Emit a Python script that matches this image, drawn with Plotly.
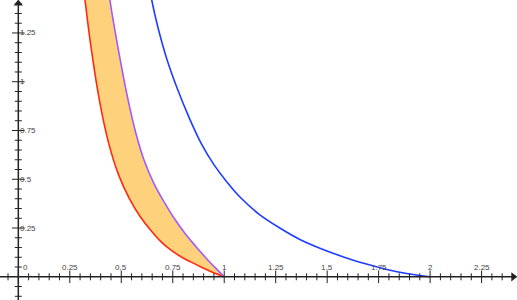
import plotly.graph_objects as go

# ---- data ----
red_x = [0.318, 0.324, 0.350, 0.393, 0.440, 0.488, 0.540, 0.590, 0.640, 0.690, 0.740, 0.790, 0.840, 0.890, 0.940, 1.0]
red_y = [1.470, 1.419, 1.200, 0.910, 0.680, 0.520, 0.400, 0.312, 0.242, 0.183, 0.138, 0.103, 0.075, 0.049, 0.025, 0.0]

purple_x = [0.440, 0.445, 0.490, 0.533, 0.570, 0.610, 0.660, 0.710, 0.760, 0.810, 0.860, 0.910, 0.955, 1.0]
purple_y = [1.470, 1.419, 1.140, 0.907, 0.740, 0.600, 0.475, 0.380, 0.295, 0.222, 0.158, 0.098, 0.048, 0.0]

blue_x = [0.640, 0.648, 0.680, 0.720, 0.770, 0.830, 0.890, 0.950, 1.010, 1.080, 1.170, 1.270, 1.370, 1.480, 1.590, 1.700, 1.800, 1.900, 2.0]
blue_y = [1.470, 1.419, 1.270, 1.120, 0.970, 0.815, 0.680, 0.575, 0.490, 0.405, 0.320, 0.250, 0.190, 0.140, 0.098, 0.063, 0.035, 0.014, 0.0]

x_tick_labels = ["0", "0.25", "0.5", "0.75", "1", "1.25", "1.5", "1.75", "2", "2.25"]
x_tick_vals = [0, 0.25, 0.5, 0.75, 1, 1.25, 1.5, 1.75, 2, 2.25]
y_tick_labels = ["0.25", "0.5", "0.75", "1", "1.25"]
y_tick_vals = [0.25, 0.5, 0.75, 1, 1.25]
x_minor = [round(-0.05 + 0.05 * i, 2) for i in range(49)]
y_minor = [round(-0.10 + 0.05 * i, 2) for i in range(31)]

X_RANGE = [-0.089, 2.422]
Y_RANGE = [-0.119, 1.419]

AXIS = "#222222"
LABEL = "#444444"
SPL = dict(shape="spline", smoothing=1.0)
fig = go.Figure()

# shaded band between red and purple curves
fig.add_trace(go.Scatter(
    x=red_x + purple_x[::-1], y=red_y + purple_y[::-1],
    fill="toself", fillcolor="#FED27C", mode="lines",
    line=dict(width=0, **SPL), hoverinfo="skip"))

fig.add_trace(go.Scatter(x=red_x, y=red_y, mode="lines",
                         line=dict(color="#FF2A10", width=1.6, **SPL)))
fig.add_trace(go.Scatter(x=purple_x, y=purple_y, mode="lines",
                         line=dict(color="#A259FF", width=1.6, **SPL)))
fig.add_trace(go.Scatter(x=blue_x, y=blue_y, mode="lines",
                         line=dict(color="#1F3DFF", width=1.6, **SPL)))

# axes lines
fig.add_shape(type="line", x0=X_RANGE[0], x1=X_RANGE[1] - 0.02, y0=0, y1=0,
              line=dict(color=AXIS, width=1.5))
fig.add_shape(type="line", x0=0, x1=0, y0=Y_RANGE[0], y1=Y_RANGE[1] - 0.02,
              line=dict(color=AXIS, width=1.5))

# arrow heads
fig.add_trace(go.Scatter(x=[X_RANGE[1] - 0.018], y=[0], mode="markers",
                         marker=dict(symbol="triangle-right", size=8, color=AXIS)))
fig.add_trace(go.Scatter(x=[0], y=[Y_RANGE[1] - 0.018], mode="markers",
                         marker=dict(symbol="triangle-up", size=8, color=AXIS)))

# ticks
x_minor_only = [v for v in x_minor if all(abs(v - m) > 1e-6 for m in x_tick_vals)]
y_minor_only = [v for v in y_minor if all(abs(v - m) > 1e-6 for m in y_tick_vals + [0])]
fig.add_trace(go.Scatter(x=x_minor_only, y=[0] * len(x_minor_only), mode="markers",
                         marker=dict(symbol="line-ns", size=5, line=dict(color=AXIS, width=1))))
fig.add_trace(go.Scatter(x=x_tick_vals, y=[0] * len(x_tick_vals), mode="markers",
                         marker=dict(symbol="line-ns", size=9, line=dict(color=AXIS, width=1))))
fig.add_trace(go.Scatter(x=[0] * len(y_minor_only), y=y_minor_only, mode="markers",
                         marker=dict(symbol="line-ew", size=5, line=dict(color=AXIS, width=1))))
fig.add_trace(go.Scatter(x=[0] * len(y_tick_vals), y=y_tick_vals, mode="markers",
                         marker=dict(symbol="line-ew", size=9, line=dict(color=AXIS, width=1))))

# tick labels
for v, t in zip(x_tick_vals, x_tick_labels):
    fig.add_annotation(x=v, y=0, text=t, showarrow=False, xanchor="center", yanchor="bottom",
                       yshift=3, xshift=7 if v == 0 else 0,
                       font=dict(size=8, color=LABEL, family="Liberation Sans"))
for v, t in zip(y_tick_vals, y_tick_labels):
    fig.add_annotation(x=0, y=v, text=t, showarrow=False, xanchor="left", yanchor="middle",
                       xshift=0, font=dict(size=8, color=LABEL, family="Liberation Sans"))

fig.update_layout(
    width=517, height=300, margin=dict(l=0, r=0, t=0, b=0),
    paper_bgcolor="white", plot_bgcolor="white", showlegend=False,
    xaxis=dict(range=X_RANGE, visible=False, fixedrange=True),
    yaxis=dict(range=Y_RANGE, visible=False, fixedrange=True),
)
fig.write_html("out.html", config={"displayModeBar": False},
               post_script="document.body.style.margin='0';document.body.style.overflow='hidden';")
